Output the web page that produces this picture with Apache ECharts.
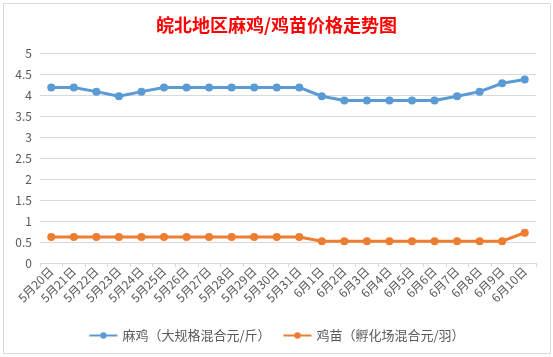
<!DOCTYPE html>
<html><head><meta charset="utf-8">
<script src="https://cdn.jsdelivr.net/npm/echarts@6/dist/echarts.min.js"></script>
<style>html,body{margin:0;padding:0;background:#fff;}#c{width:553px;height:357px;}</style>
</head><body><div id="c"></div>
<script>
const titleText = '皖北地区麻鸡/鸡苗价格走势图';
const categories = ['5月20日','5月21日','5月22日','5月23日','5月24日','5月25日','5月26日','5月27日','5月28日','5月29日','5月30日','5月31日','6月1日','6月2日','6月3日','6月4日','6月5日','6月6日','6月7日','6月8日','6月9日','6月10日'];
const seriesNames = ['麻鸡（大规格混合元/斤）','鸡苗（孵化场混合元/羽）'];
const maji = [4.18,4.18,4.08,3.97,4.08,4.18,4.18,4.18,4.18,4.18,4.18,4.18,3.97,3.87,3.87,3.87,3.87,3.87,3.97,4.08,4.28,4.37];
const jimiao = [0.62,0.62,0.62,0.62,0.62,0.62,0.62,0.62,0.62,0.62,0.62,0.62,0.52,0.52,0.52,0.52,0.52,0.52,0.52,0.52,0.52,0.72];
const yTicks = {min:0, max:5, interval:0.5};

const chart = echarts.init(document.getElementById('c'), null, {renderer:'canvas'});
const font = '"Noto Sans CJK SC","Microsoft YaHei",sans-serif';
chart.setOption({
  backgroundColor:'#fff',
  animation:false,
  title:{text:titleText,left:'center',top:11,textStyle:{color:'#FF0000',fontSize:18,fontWeight:'bold',fontFamily:font}},
  graphic:[{type:'rect',shape:{x:3.5,y:3.5,width:547,height:350},style:{fill:'none',stroke:'#D9D9D9',lineWidth:1},silent:true}],
  grid:{left:40,right:17,top:53,bottom:94,containLabel:false},
  legend:{top:324,left:'center',itemWidth:28,itemHeight:8,itemGap:12,
    textStyle:{color:'#595959',fontSize:13,fontFamily:font},
    data:seriesNames},
  xAxis:{type:'category',data:categories,boundaryGap:true,
    axisLine:{lineStyle:{color:'#D9D9D9'}},
    axisTick:{show:true,length:4,lineStyle:{color:'#D9D9D9'},alignWithLabel:false},
    axisLabel:{rotate:45,interval:0,color:'#595959',fontSize:12,margin:6,fontFamily:font}},
  yAxis:{type:'value',min:yTicks.min,max:yTicks.max,interval:yTicks.interval,
    axisLine:{show:false},axisTick:{show:false},
    splitLine:{lineStyle:{color:'#D9D9D9'}},
    axisLabel:{color:'#595959',fontSize:12,margin:8,fontFamily:font}},
  series:[
    {name:seriesNames[0],type:'line',data:maji,symbol:'circle',symbolSize:8,
      lineStyle:{width:3,color:'#5B9BD5'},itemStyle:{color:'#5B9BD5'}},
    {name:seriesNames[1],type:'line',data:jimiao,symbol:'circle',symbolSize:8,
      lineStyle:{width:3,color:'#ED7D31'},itemStyle:{color:'#ED7D31'}}
  ]
});
</script></body></html>
